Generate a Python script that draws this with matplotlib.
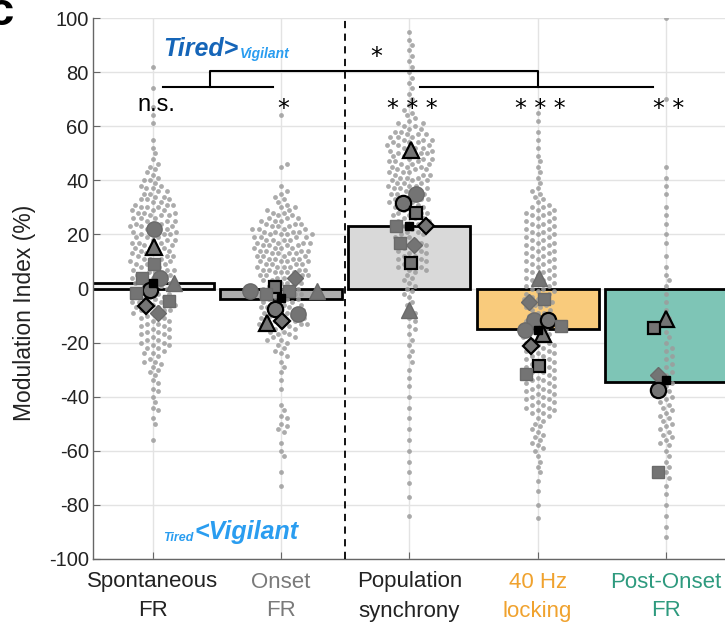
import numpy as np
import matplotlib
matplotlib.use("Agg")
import matplotlib.pyplot as plt

plt.rcParams['font.family'] = ['Liberation Sans', 'DejaVu Sans']

# ---------------- data ----------------
categories = ["Spontaneous\nFR", "Onset\nFR", "Population\nsynchrony", "40 Hz\nlocking", "Post-Onset\nFR"]
label_colors = ["#222222", "#7a7a7a", "#222222", "#F0A22E", "#2E9A7E"]
bar_values = [2, -4, 23, -15, -34.5]
bar_colors = ["#F2F2F2", "#ADADAD", "#D9D9D9", "#F9CB7C", "#7EC5B6"]

dots_spont = [82, 74, 67, 64, 61, 55, 52, 50, 48, 46, 45, 44, 43, 42, 41, 40, 40, 39, 38, 38, 37, 37, 36,
              36, 35, 35, 34, 34, 33, 33, 33, 32, 32, 31, 31, 31, 30, 30, 30, 29, 29, 29, 28, 28, 28, 27,
              27, 27, 26, 26, 26, 25, 25, 25, 24, 24, 24, 23, 23, 23, 22, 22, 22, 21, 21, 21, 20, 20, 20,
              19, 19, 19, 18, 18, 18, 17, 17, 17, 16, 16, 16, 15, 15, 15, 14, 14, 14, 13, 13, 13, 12, 12,
              12, 11, 11, 11, 10, 10, 10, 9, 9, 9, 8, 8, 8, 7, 7, 7, 6, 6, 6, 5, 5, 5, 4, 4, 4, 3, 3, 3,
              2, 2, 2, 1, 1, 1, 0, 0, 0, -1, -1, -1, -2, -2, -2, -3, -3, -3, -4, -4, -4, -5, -5, -5, -6,
              -6, -6, -7, -7, -7, -8, -8, -8, -9, -9, -10, -10, -11, -11, -12, -12, -13, -13, -14, -14,
              -15, -15, -16, -16, -17, -17, -18, -18, -19, -19, -20, -20, -21, -21, -22, -22, -23, -24,
              -24, -25, -26, -27, -27, -28, -29, -30, -31, -32, -34, -35, -37, -38, -40, -42, -44, -45,
              -48, -50, -56]
dots_onset = [64, 46, 45, 38, 36, 35, 34, 33, 32, 31, 30, 30, 29, 29, 28, 28, 27, 27, 26, 26, 26, 25, 25,
              25, 24, 24, 24, 23, 23, 23, 22, 22, 22, 22, 21, 21, 21, 21, 20, 20, 20, 20, 19, 19, 19, 19,
              18, 18, 18, 18, 17, 17, 17, 17, 16, 16, 16, 16, 15, 15, 15, 15, 14, 14, 14, 14, 13, 13, 13,
              13, 12, 12, 12, 12, 11, 11, 11, 11, 10, 10, 10, 10, 9, 9, 9, 9, 8, 8, 8, 8, 7, 7, 7, 7, 6, 6,
              6, 6, 5, 5, 5, 5, 4, 4, 4, 3, 3, 3, 2, 2, 2, 1, 1, 1, 0, 0, 0, -1, -1, -1, -2, -2, -2, -3,
              -3, -3, -4, -4, -4, -5, -5, -5, -6, -6, -6, -7, -7, -7, -8, -8, -8, -9, -9, -9, -10, -10,
              -10, -11, -11, -11, -12, -12, -12, -13, -13, -13, -13, -14, -14, -14, -15, -15, -16, -16,
              -17, -17, -18, -18, -19, -19, -20, -21, -22, -23, -24, -25, -27, -29, -31, -34, -37, -43,
              -45, -47, -48, -50, -51, -52, -53, -57, -60, -62, -68, -73]
dots_sync = [95, 92, 90, 88, 86, 84, 82, 80, 78, 76, 74, 72, 70, 68, 66, 65, 64, 63, 62, 61, 61, 60, 60,
             59, 59, 58, 58, 57, 57, 57, 56, 56, 56, 55, 55, 55, 54, 54, 54, 53, 53, 53, 52, 52, 52, 51,
             51, 51, 50, 50, 50, 49, 49, 49, 48, 48, 48, 47, 47, 47, 46, 46, 46, 45, 45, 45, 44, 44, 44,
             43, 43, 43, 42, 42, 42, 41, 41, 41, 40, 40, 40, 39, 39, 39, 38, 38, 38, 37, 37, 37, 36, 36,
             36, 35, 35, 35, 34, 34, 34, 33, 33, 33, 32, 32, 32, 31, 31, 30, 30, 30, 29, 29, 28, 28, 28,
             27, 27, 26, 26, 26, 25, 25, 24, 24, 24, 23, 23, 22, 22, 21, 21, 20, 20, 19, 19, 18, 18, 17,
             17, 16, 16, 15, 15, 14, 14, 13, 13, 12, 12, 11, 11, 10, 10, 9, 9, 8, 8, 7, 7, 6, 5, 4, 3, 2,
             1, 0, -1, -2, -3, -5, -6, -8, -9, -11, -12, -14, -15, -17, -19, -21, -23, -25, -27, -30,
             -33, -36, -40, -44, -48, -52, -56, -60, -64, -68, -72, -77, -84]
dots_40hz = [65, 62, 58, 55, 52, 49, 47, 45, 43, 41, 39, 37, 36, 35, 34, 33, 32, 31, 30, 30, 29, 29, 28,
             28, 27, 27, 26, 26, 25, 25, 24, 24, 23, 23, 22, 22, 21, 21, 20, 20, 19, 19, 18, 18, 17, 17,
             16, 16, 15, 15, 14, 14, 13, 13, 12, 12, 11, 11, 10, 10, 9, 9, 8, 8, 7, 7, 6, 6, 5, 5, 4, 4,
             3, 3, 2, 2, 1, 1, 0, 0, -1, -1, -2, -2, -3, -3, -4, -4, -5, -5, -6, -6, -7, -7, -8, -8, -9,
             -9, -10, -10, -11, -11, -12, -12, -13, -13, -14, -14, -15, -15, -16, -16, -17, -17, -18,
             -18, -19, -19, -20, -20, -21, -21, -22, -22, -23, -23, -24, -24, -25, -25, -26, -26, -27,
             -27, -28, -28, -29, -29, -30, -30, -31, -31, -32, -32, -33, -33, -34, -34, -35, -35, -36,
             -36, -37, -37, -38, -38, -39, -39, -40, -40, -41, -41, -42, -42, -43, -43, -44, -44, -45,
             -45, -46, -46, -47, -48, -49, -50, -51, -52, -53, -54, -55, -56, -57, -58, -59, -60, -62,
             -64, -66, -68, -71, -75, -80, -85]
dots_post = [100, 70, 45, 41, 38, 35, 30, 27, 24, 20, 17, 12, 8, 5, 3, 1, -2, -5, -8, -11, -13, -16, -18,
             -20, -22, -23, -25, -26, -28, -29, -31, -32, -34, -35, -36, -38, -39, -40, -41, -42, -43,
             -44, -45, -46, -47, -48, -49, -50, -51, -52, -53, -54, -55, -56, -57, -58, -60, -62, -64,
             -66, -68, -70, -73, -76, -80, -84, -88, -92]
dots_all = [dots_spont, dots_onset, dots_sync, dots_40hz, dots_post]

# individual animals (category index, value, marker, black edge)
animal_cat = [0, 0, 0, 0, 0, 0, 0, 0, 0, 0, 0,
              1, 1, 1, 1, 1, 1, 1, 1, 1, 1,
              2, 2, 2, 2, 2, 2, 2, 2, 2, 2,
              3, 3, 3, 3, 3, 3, 3, 3, 3, 3, 3,
              4, 4, 4, 4, 4]
animal_val = [22.1, 15.2, 8.9, 4, 4, 2.2, -0.4, -1.5, -4.7, -6.5, -9,
              4, 0.7, -1, -1, -1, -2, -7.5, -9.6, -12.7, -12,
              51.2, 34.8, 31.5, 28, 23, 23, 17, 16, 9.3, -8,
              4, -5, -3.7, -11.5, -11.5, -14, -15.4, -17, -21.4, -28.8, -31.5,
              -11.2, -14.5, -32, -37.4, -68]
animal_marker = ['o', '^', 's', 's', 'o', '^', 'o', 's', 's', 'D', 'D',
                 'D', 's', 'o', 's', '^', 's', 'o', 'o', '^', 'D',
                 '^', 'o', 'o', 's', 's', 'D', 's', 'D', 's', '^',
                 '^', 'D', 's', 'o', 'o', 's', 'o', '^', 'D', 's', 's',
                 '^', 's', 'D', 'o', 's']
animal_black_edge = [0, 1, 0, 0, 0, 0, 1, 0, 0, 1, 0,
                     0, 1, 0, 0, 0, 0, 1, 0, 1, 1,
                     1, 0, 1, 1, 0, 1, 0, 0, 1, 0,
                     0, 0, 0, 0, 1, 0, 0, 1, 1, 1, 0,
                     1, 1, 0, 1, 0]
animal_dx = [0.01, 0.01, 0.01, -0.08, 0.06, 0.17, -0.02, -0.13, 0.13, -0.05, 0.045,
             0.11, -0.05, -0.24, 0.06, 0.28, -0.12, -0.05, 0.13, -0.11, 0.01,
             0.01, 0.05, -0.05, 0.055, -0.1, 0.13, -0.075, 0.04, 0.01, 0.0,
             0.01, -0.07, 0.05, -0.03, 0.08, 0.18, -0.1, 0.04, -0.05, 0.01, -0.09,
             0.0, -0.09, -0.06, -0.06, -0.06]
mean_values = [2, -3.5, 23, -15.4, -34]

# ---------------- figure ----------------
W, H = 725, 625
fig = plt.figure(figsize=(W / 100, H / 100), dpi=100)
ax = fig.add_axes([93 / W, (625 - 559) / H, 1 - 93 / W, (559 - 18) / H])
xlo, xhi = 0.535, 5.46
ylo, yhi = -100, 100
ax.set_xlim(xlo, xhi)
ax.set_ylim(ylo, yhi)

x = np.arange(1, 6)
ax.set_axisbelow(True)
ax.grid(True, color="#E3E3E3", lw=1)
ax.bar(x, bar_values, width=0.95, color=bar_colors, edgecolor="black", lw=2, zorder=2)

# swarm layout in pixel space
ax_w_px = W * (1 - 93 / W)
ax_h_px = 559 - 18
sx = ax_w_px / (xhi - xlo)
sy = ax_h_px / (yhi - ylo)
d = 5.9


def swarm(vals):
    vals = np.asarray(vals, float)
    order = np.argsort(np.abs(vals - np.median(vals)))
    placed = []
    offs = np.zeros(len(vals))
    cands = [0.0]
    for k in range(1, 150):
        cands += [k * 0.7, -k * 0.7]
    for i in order:
        yv = vals[i] * sy
        for c in cands:
            ok = True
            for (px, py) in placed:
                if abs(py - yv) < d and (px - c) ** 2 + (py - yv) ** 2 < d * d:
                    ok = False
                    break
            if ok:
                offs[i] = c
                placed.append((c, yv))
                break
    return offs / sx


for i, vals in enumerate(dots_all):
    off = swarm(vals)
    ax.scatter(x[i] + off, vals, s=12, color="#9C9C9C", alpha=0.85, lw=0, zorder=3)

for c, v, m, be, dx in zip(animal_cat, animal_val, animal_marker, animal_black_edge, animal_dx):
    ms = {'o': 11, 's': 9, '^': 11, 'D': 8.5}[m]
    ax.plot(x[c] + dx, v, marker=m, ms=ms, mfc="#747474",
            mec="black" if be else "#6a6a6a", mew=1.6 if be else 1.0, ls='none', zorder=4)

ax.plot(x, mean_values, 's', ms=6, color="black", ls='none', zorder=5)

# dashed separator
ax.axvline(2.5, color="black", lw=1.3, ls=(0, (4, 3)), zorder=6)

# significance
sig_labels = ["n.s.", "*", "* * *", "* * *", "* *"]
for i, s in enumerate(sig_labels):
    if s == "n.s.":
        ax.text(x[i] + 0.03, 68, s, ha='center', va='center', fontsize=17, zorder=7)
    else:
        ax.text(x[i] + 0.02, 66.5, s, ha='center', va='center', fontsize=17,
                family=['DejaVu Sans'], zorder=7)
ax.plot([1.08, 1.94], [74.5, 74.5], color="black", lw=1.5, zorder=7)
ax.plot([3.08, 4.9], [74.5, 74.5], color="black", lw=1.5, zorder=7)
ax.plot([1.45, 1.45, 4.0, 4.0], [74.5, 80.5, 80.5, 74.5], color="black", lw=1.5, zorder=7)
ax.text(2.74, 85.5, "*", ha='center', va='center', fontsize=17, family=['DejaVu Sans'], zorder=7)

# Tired / Vigilant labels
t1 = ax.text(1.08, 86, "Tired>", fontsize=18, fontweight='bold', style='italic',
             color="#1565B8", ha='left', va='baseline', zorder=7)
ax.annotate("Vigilant", xy=(1, 0), xycoords=t1, xytext=(1, 0), textcoords='offset points',
            fontsize=10, fontweight='bold', style='italic', color="#2A9DF0",
            ha='left', va='bottom', zorder=7)
t2 = ax.text(1.08, -93.5, "Tired", fontsize=9, fontweight='bold', style='italic',
             color="#2A9DF0", ha='left', va='baseline', zorder=7)
ax.annotate("<Vigilant", xy=(1, 0), xycoords=t2, xytext=(1, 0), textcoords='offset points',
            fontsize=18, fontweight='bold', style='italic', color="#2A9DF0",
            ha='left', va='bottom', zorder=7)

# axes styling
for s in ['top', 'right']:
    ax.spines[s].set_visible(False)
for s in ['left', 'bottom']:
    ax.spines[s].set_color("#666666")
    ax.spines[s].set_linewidth(1.0)
ax.set_yticks(np.arange(-100, 101, 20))
ax.set_yticklabels([str(v) for v in range(-100, 101, 20)], fontsize=14.5, color="#222222")
ax.set_xticks(x)
ax.set_xticklabels(categories, fontsize=16, linespacing=1.5)
for lab, col in zip(ax.get_xticklabels(), label_colors):
    lab.set_color(col)
ax.tick_params(direction='in', length=5, color="#666666", pad=3)
ax.tick_params(axis='x', pad=9)
ax.set_ylabel("Modulation Index (%)", fontsize=16.5, color="#222222")
ax.yaxis.set_label_coords(-0.09, 0.455)

# panel letter, partially cut off as in the original figure
fig.text(-0.018, 1.015, "c", fontsize=34, fontweight='bold', ha='left', va='top')

fig.savefig("out.png", dpi=100)
